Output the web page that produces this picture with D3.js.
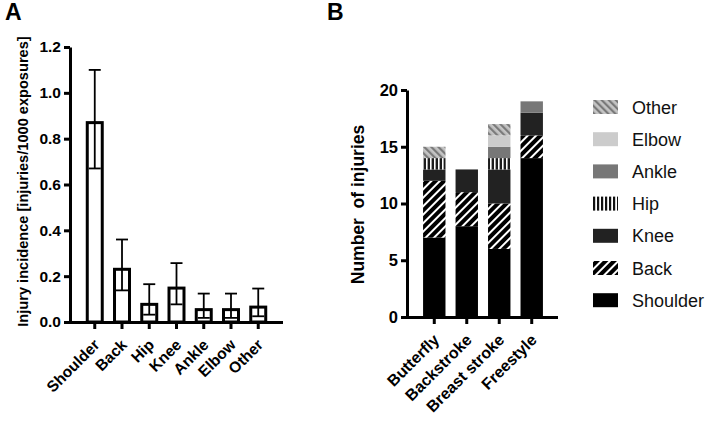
<!DOCTYPE html>
<html>
<head>
<meta charset="utf-8">
<script src="https://cdn.jsdelivr.net/npm/d3@7"></script>
<style>
  html, body { margin: 0; padding: 0; background: #fff; }
  svg { display: block; font-family: "Liberation Sans", Arial, sans-serif; }
</style>
</head>
<body>
<svg id="chart" width="709" height="423"></svg>
<script>
(function () {
  'use strict';

  // panel A: injury incidence per region
  var regions = ['Shoulder', 'Back', 'Hip', 'Knee', 'Ankle', 'Elbow', 'Other'];
  var incidence = [0.87, 0.23, 0.077, 0.148, 0.054, 0.054, 0.065];
  var ciLow = [0.67, 0.138, 0.032, 0.077, 0.018, 0.018, 0.025];
  var ciHigh = [1.10, 0.36, 0.165, 0.257, 0.124, 0.124, 0.146];
  var ticksA = [0, 0.2, 0.4, 0.6, 0.8, 1.0, 1.2];

  // panel B: number of injuries per stroke, stacked by region
  var strokes = ['Butterfly', 'Backstroke', 'Breast stroke', 'Freestyle'];
  var stackKeys = ['Shoulder', 'Back', 'Knee', 'Hip', 'Ankle', 'Elbow', 'Other'];
  var shoulderN = [7, 8, 6, 14];
  var backN = [5, 3, 4, 2];
  var kneeN = [1, 2, 3, 2];
  var hipN = [1, 0, 1, 0];
  var ankleN = [0, 0, 1, 1];
  var elbowN = [0, 0, 1, 0];
  var otherN = [1, 0, 1, 0];
  var ticksB = [0, 5, 10, 15, 20];
  var legendOrder = ['Other', 'Elbow', 'Ankle', 'Hip', 'Knee', 'Back', 'Shoulder'];

  var svg = d3.select('#chart');
  var defs = svg.append('defs');

  // hatch patterns
  var pBack = defs.append('pattern').attr('id', 'p-back')
    .attr('patternUnits', 'userSpaceOnUse').attr('width', 6).attr('height', 6)
    .attr('patternTransform', 'rotate(45)');
  pBack.append('rect').attr('width', 6).attr('height', 6).attr('fill', '#000');
  pBack.append('rect').attr('x', 0).attr('width', 2).attr('height', 6).attr('fill', '#fff');

  var pOther = defs.append('pattern').attr('id', 'p-other')
    .attr('patternUnits', 'userSpaceOnUse').attr('width', 5).attr('height', 5)
    .attr('patternTransform', 'rotate(-45)');
  pOther.append('rect').attr('width', 5).attr('height', 5).attr('fill', '#c4c4c4');
  pOther.append('rect').attr('x', 0).attr('width', 2.2).attr('height', 5).attr('fill', '#7a7a7a');

  var pHip = defs.append('pattern').attr('id', 'p-hip')
    .attr('patternUnits', 'userSpaceOnUse').attr('width', 4).attr('height', 4);
  pHip.append('rect').attr('width', 4).attr('height', 4).attr('fill', '#1c1c1c');
  pHip.append('rect').attr('x', 2).attr('width', 1.6).attr('height', 4).attr('fill', '#fff');

  var pHipLeg = defs.append('pattern').attr('id', 'p-hip-leg')
    .attr('patternUnits', 'userSpaceOnUse').attr('width', 4).attr('height', 4);
  pHipLeg.append('rect').attr('width', 4).attr('height', 4).attr('fill', '#fff');
  pHipLeg.append('rect').attr('x', 0).attr('width', 2.2).attr('height', 4).attr('fill', '#111');

  var fills = {
    Shoulder: '#000', Back: 'url(#p-back)', Knee: '#222', Hip: 'url(#p-hip)',
    Ankle: '#777', Elbow: '#cccccc', Other: 'url(#p-other)'
  };
  var legendFills = Object.assign({}, fills, { Hip: 'url(#p-hip-leg)' });

  // panel letters
  svg.append('text').attr('x', 5).attr('y', 20).attr('font-size', 23)
    .attr('font-weight', 'bold').text('A');
  svg.append('text').attr('x', 327).attr('y', 20).attr('font-size', 23)
    .attr('font-weight', 'bold').text('B');

  // ---------- panel A ----------
  var xA = d3.scaleBand().domain(regions).range([75, 278]).padding(0.45);
  var yA = d3.scaleLinear().domain([0, 1.2]).range([322, 47]);
  var gA = svg.append('g');

  gA.selectAll('rect.bar').data(regions).enter().append('rect')
    .attr('class', 'bar')
    .attr('x', function (d) { return xA(d); })
    .attr('y', function (d, i) { return yA(incidence[i]); })
    .attr('width', xA.bandwidth())
    .attr('height', function (d, i) { return yA(0) - yA(incidence[i]); })
    .attr('fill', '#fff').attr('stroke', '#000').attr('stroke-width', 3);

  var err = gA.selectAll('g.err').data(regions).enter().append('g')
    .attr('transform', function (d) { return 'translate(' + (xA(d) + xA.bandwidth() / 2) + ',0)'; });
  err.append('line')
    .attr('y1', function (d, i) { return yA(ciLow[i]); })
    .attr('y2', function (d, i) { return yA(ciHigh[i]); })
    .attr('stroke', '#000').attr('stroke-width', 1.8);
  err.append('line').attr('x1', -6).attr('x2', 6)
    .attr('y1', function (d, i) { return yA(ciHigh[i]); })
    .attr('y2', function (d, i) { return yA(ciHigh[i]); })
    .attr('stroke', '#000').attr('stroke-width', 1.8);
  err.append('line').attr('x1', -6).attr('x2', 6)
    .attr('y1', function (d, i) { return yA(ciLow[i]); })
    .attr('y2', function (d, i) { return yA(ciLow[i]); })
    .attr('stroke', '#000').attr('stroke-width', 1.8);

  var axAy = gA.append('g').attr('transform', 'translate(70,0)')
    .call(d3.axisLeft(yA).tickValues(ticksA).tickFormat(d3.format('.1f')).tickSize(6).tickSizeOuter(0));
  var axAx = gA.append('g').attr('transform', 'translate(0,' + yA(0) + ')')
    .call(d3.axisBottom(xA).tickSize(7).tickSizeOuter(0));
  axAx.select('.domain').attr('d', 'M68.5,0.5H283');
  styleAxis(axAy, 15.5);
  styleAxis(axAx, 15.5);
  axAy.selectAll('text').attr('x', -9);
  rotateLabels(axAx);

  svg.append('text')
    .attr('transform', 'translate(28,' + ((yA(0) + yA(1.2)) / 2 - 3) + ') rotate(-90)')
    .attr('text-anchor', 'middle').attr('font-size', 14.6).attr('font-weight', 'bold')
    .text('Injury incidence [injuries/1000 exposures]');

  // ---------- panel B ----------
  var counts = {
    Shoulder: shoulderN, Back: backN, Knee: kneeN, Hip: hipN,
    Ankle: ankleN, Elbow: elbowN, Other: otherN
  };
  var table = strokes.map(function (s, i) {
    var row = { stroke: s };
    stackKeys.forEach(function (k) { row[k] = counts[k][i]; });
    return row;
  });
  var series = d3.stack().keys(stackKeys)(table);

  var xB = d3.scaleBand().domain(strokes).range([413, 553]).padding(0.31);
  var yB = d3.scaleLinear().domain([0, 20]).range([317, 90]);
  var gB = svg.append('g');

  gB.selectAll('g.layer').data(series).enter().append('g')
    .attr('fill', function (d) { return fills[d.key]; })
    .selectAll('rect').data(function (d) { return d; }).enter().append('rect')
    .attr('x', function (d) { return xB(d.data.stroke); })
    .attr('y', function (d) { return yB(d[1]); })
    .attr('width', xB.bandwidth())
    .attr('height', function (d) { return yB(d[0]) - yB(d[1]); });

  var axBy = gB.append('g').attr('transform', 'translate(407,0)')
    .call(d3.axisLeft(yB).tickValues(ticksB).tickSize(6).tickSizeOuter(0));
  var axBx = gB.append('g').attr('transform', 'translate(0,' + yB(0) + ')')
    .call(d3.axisBottom(xB).tickSize(7).tickSizeOuter(0));
  axBx.select('.domain').attr('d', 'M405.5,0.5H558');
  styleAxis(axBy, 16.5);
  styleAxis(axBx, 16);
  axBy.selectAll('text').attr('x', -9);
  rotateLabels(axBx);

  svg.append('text')
    .attr('transform', 'translate(364,' + ((yB(0) + yB(20)) / 2 + 1) + ') rotate(-90)')
    .attr('text-anchor', 'middle').attr('font-size', 17.5).attr('font-weight', 'bold')
    .style('white-space', 'pre')
    .text('Number  of injuries');

  // legend
  var leg = svg.append('g').selectAll('g').data(legendOrder).enter().append('g')
    .attr('transform', function (d, i) { return 'translate(593,' + (107 + i * 32.2) + ')'; });
  leg.append('rect').attr('x', 0).attr('y', -7).attr('width', 25).attr('height', 14)
    .attr('fill', function (d) { return legendFills[d]; });
  leg.append('text').attr('x', 39).attr('y', 6.5).attr('font-size', 18)
    .attr('fill', '#111').text(function (d) { return d; });

  function styleAxis(ax, fs) {
    ax.select('.domain').attr('stroke', '#000').attr('stroke-width', 3);
    ax.selectAll('.tick line').attr('stroke', '#000').attr('stroke-width', 3);
    ax.selectAll('text').attr('fill', '#000').attr('font-size', fs)
      .attr('font-weight', 'bold').attr('font-family', '"Liberation Sans", Arial, sans-serif');
  }

  function rotateLabels(ax) {
    ax.selectAll('.tick text')
      .attr('text-anchor', 'end')
      .attr('x', 0).attr('y', 0).attr('dy', '0.35em')
      .attr('transform', 'translate(2,20) rotate(-45)');
  }
})();
</script>
</body>
</html>
